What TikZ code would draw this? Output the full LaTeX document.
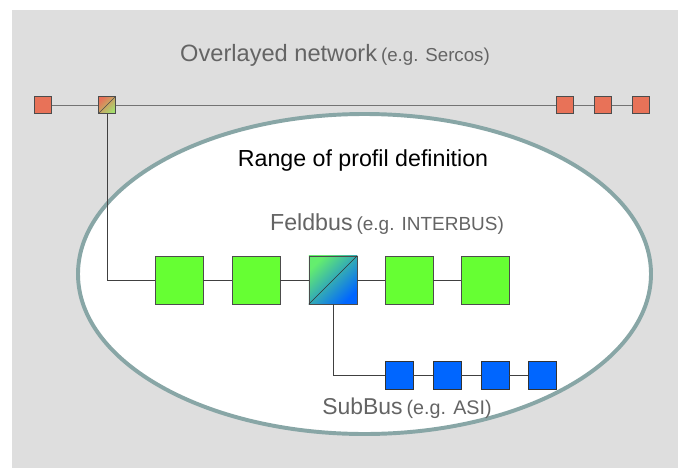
\documentclass[tikz,border=0pt]{standalone}
\usepackage{fontspec}
\setmainfont{Liberation Sans}

\definecolor{bggray}{RGB}{222,222,222}
\definecolor{sercosred}{RGB}{232,114,88}
\definecolor{mixgreen}{RGB}{165,222,110}
\definecolor{feldgreen}{RGB}{102,255,51}
\definecolor{shadegreen}{RGB}{100,238,110}
\definecolor{subblue}{RGB}{0,102,255}
\definecolor{rangeteal}{RGB}{136,166,166}
\definecolor{labelgray}{RGB}{100,100,100}

\begin{document}
\begin{tikzpicture}[x=0.025cm,y=-0.025cm,
		redbox/.style={draw=black!70,fill=sercosred,minimum size=0.42cm,inner sep=0pt},
		greenbox/.style={draw=black!70,fill=feldgreen,minimum size=1.2cm,inner sep=0pt},
		bluebox/.style={draw=black!80,fill=subblue,minimum size=0.7cm,inner sep=0pt},
		bus/.style={draw=black!75,line width=0.7pt},
		graytext/.style={text=labelgray,inner sep=0pt}]
				% background
				\useasboundingbox (0,0) rectangle (678,468);
				\fill[white] (0,0) rectangle (678,468);
				\fill[bggray] (12,10) rectangle (678,468);
				% range of the profile
				\draw[rangeteal, line width=2.8pt, fill=white] (364.5,274) ellipse [x radius=286.5, y radius=160];
				% overlayed network
				\node[graytext] (title) at (335,55) {{\fontsize{16.8}{18}\selectfont Overlayed network} {\fontsize{13.3}{14}\selectfont (e.g. Sercos)}};
				\node[redbox] (r1) at (43,105) {};
				\node[redbox, top color=sercosred, bottom color=mixgreen, shading angle=45] (m) at (107,105) {};
				\draw[black!70] (m.south west) -- (m.north east);
				\node[redbox] (r2) at (565,105) {};
				\node[redbox] (r3) at (603,105) {};
				\node[redbox] (r4) at (641,105) {};
				\draw[bus, black!55] (r1) -- (m) -- (r2) -- (r3) -- (r4);
				% feldbus
				\node[inner sep=0pt] (range) at (363,160) {\fontsize{16.5}{18}\selectfont Range of profil definition};
				\node[graytext] (feld) at (387,224) {{\fontsize{16.5}{18}\selectfont Feldbus} {\fontsize{13.5}{14}\selectfont (e.g. INTERBUS)}};
				\node[greenbox] (g1) at (179,280) {};
				\node[greenbox] (g2) at (256,280) {};
				\node[greenbox, top color=shadegreen, bottom color=subblue, shading angle=45] (g3) at (333,280) {};
				\draw[black!80] (g3.south west) -- (g3.north east);
				\node[greenbox] (g4) at (409,280) {};
				\node[greenbox] (g5) at (485,280) {};
				\draw[bus] (m) |- (g1);
				\draw[bus] (g1) -- (g2) -- (g3) -- (g4) -- (g5);
				% subbus
				\node[bluebox] (b1) at (399,375) {};
				\node[bluebox] (b2) at (447,375) {};
				\node[bluebox] (b3) at (495,375) {};
				\node[bluebox] (b4) at (542,375) {};
				\draw[bus] (g3) |- (b1);
				\draw[bus] (b1) -- (b2) -- (b3) -- (b4);
				\node[graytext] (sub) at (407,408) {{\fontsize{16.3}{18}\selectfont SubBus} {\fontsize{14}{14}\selectfont (e.g. ASI)}};
				\end{tikzpicture}
\end{document}
